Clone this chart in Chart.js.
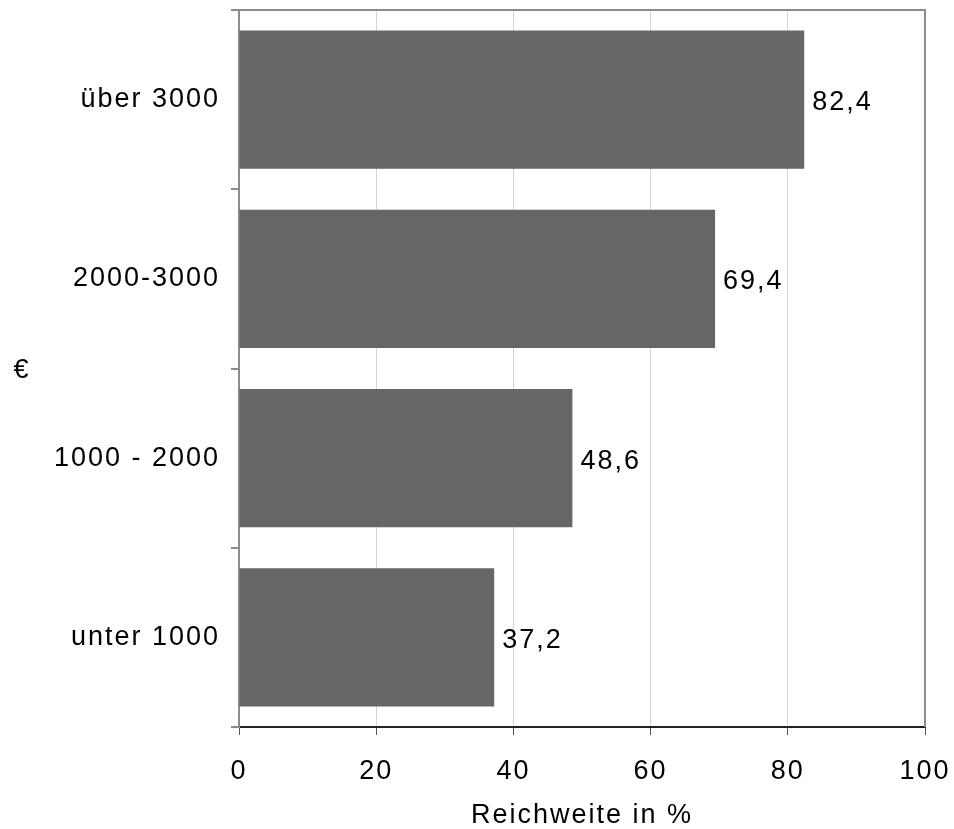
<!DOCTYPE html>
<html>
<head>
<meta charset="utf-8">
<script src="https://cdn.jsdelivr.net/npm/chart.js@4"></script>
<style>
  html, body { margin: 0; padding: 0; background: #fff; }
  #wrap { width: 954px; height: 829px; }
</style>
</head>
<body>
<div id="wrap"><canvas id="reachChart"></canvas></div>
<script>
// Income groups (top to bottom) and reach values
const categories = ['über 3000', '2000-3000', '1000 - 2000', 'unter 1000'];
const reach = [82.4, 69.4, 48.6, 37.2];
const valueLabels = ['82,4', '69,4', '48,6', '37,2'];
const xTicks = [0, 20, 40, 60, 80, 100];
const xTitle = 'Reichweite in %';
const yTitle = '€';

const FONT = { family: '"Liberation Sans", Arial, sans-serif', size: 27 };
const SPACING = '2px';

// Letter spacing, frame lines, value labels and the € title
const extras = {
  id: 'extras',
  beforeInit(chart) { chart.ctx.letterSpacing = SPACING; },
  beforeLayout(chart) { chart.ctx.letterSpacing = SPACING; },
  beforeDraw(chart) { chart.ctx.letterSpacing = SPACING; },
  afterDatasetsDraw(chart) {
    const { ctx, chartArea } = chart;
    ctx.save();
    // top and right frame
    ctx.strokeStyle = '#8c8c8c';
    ctx.lineWidth = 2;
    ctx.beginPath();
    ctx.moveTo(chartArea.left - 8, chartArea.top);
    ctx.lineTo(chartArea.right, chartArea.top);
    ctx.lineTo(chartArea.right, chartArea.bottom);
    ctx.stroke();
    // value labels
    ctx.letterSpacing = SPACING;
    ctx.fillStyle = '#000';
    ctx.font = FONT.size + 'px ' + FONT.family;
    ctx.textAlign = 'left';
    ctx.textBaseline = 'middle';
    chart.getDatasetMeta(0).data.forEach((bar, i) => {
      ctx.fillText(valueLabels[i], bar.x + 8, bar.y + 3);
    });
    // axis title on the left
    ctx.textAlign = 'center';
    ctx.fillText(yTitle, 22, (chartArea.top + chartArea.bottom) / 2 + 2);
    ctx.restore();
  }
};

const ctx = document.getElementById('reachChart').getContext('2d');
new Chart(ctx, {
  type: 'bar',
  data: {
    labels: categories,
    datasets: [{
      data: reach,
      backgroundColor: '#666666',
      borderWidth: 0,
      barPercentage: 0.77,
      categoryPercentage: 1.0
    }]
  },
  options: {
    indexAxis: 'y',
    responsive: true,
    maintainAspectRatio: false,
    animation: false,
    layout: { padding: { top: 10, right: 29, left: 0, bottom: 0 } },
    plugins: {
      legend: { display: false },
      tooltip: { enabled: false }
    },
    scales: {
      x: {
        min: 0,
        max: 100,
        afterBuildTicks: (scale) => { scale.ticks = xTicks.map(v => ({ value: v })); },
        afterFit: (scale) => { scale.height = 102; scale.paddingLeft = 0; scale.paddingRight = 0; },
        border: { color: '#222', width: 2 },
        grid: {
          color: (c) => c.tick && c.tick.value === 100 ? '#8c8c8c' : '#d4d4d4',
          lineWidth: 1,
          tickLength: 8,
          tickColor: '#555'
        },
        ticks: { color: '#000', font: FONT, padding: 20 },
        title: { display: true, text: xTitle, color: '#000', font: { ...FONT, lineHeight: 1.0 }, padding: { top: 10, bottom: 0 } }
      },
      y: {
        afterFit: (scale) => { scale.width = 239; scale.paddingTop = 0; scale.paddingBottom = 0; },
        border: { color: '#8c8c8c', width: 2 },
        grid: {
          offset: true,
          drawOnChartArea: false,
          tickLength: 8,
          tickColor: '#8c8c8c',
          lineWidth: 2
        },
        ticks: { color: '#000', font: FONT, padding: 11 }
      }
    }
  },
  plugins: [extras]
});
</script>
</body>
</html>
